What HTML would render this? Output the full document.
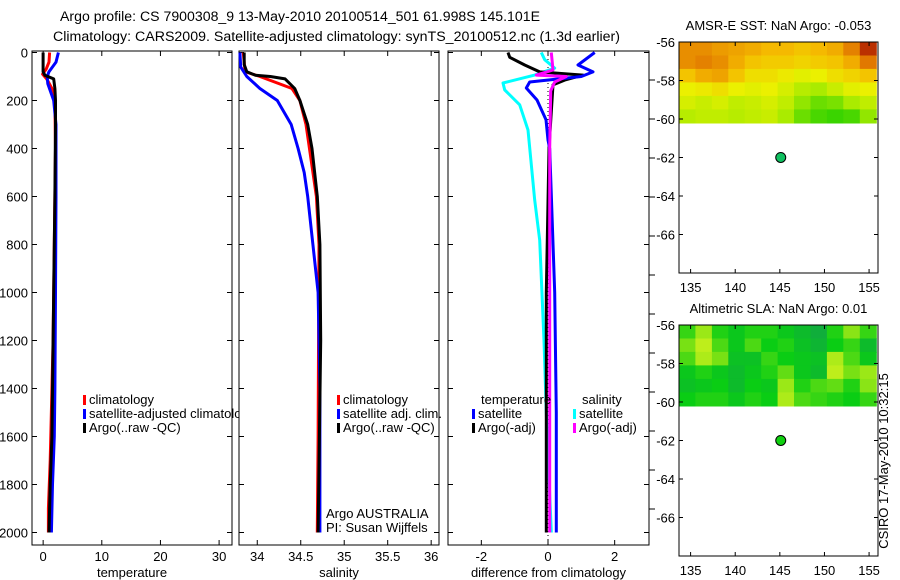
<!DOCTYPE html>
<html><head><meta charset="utf-8"><style>
body{margin:0;background:#fff;}
svg{display:block;font-family:"Liberation Sans",sans-serif;}
</style></head><body>
<svg id="fig" width="900" height="580" viewBox="0 0 900 580" xmlns="http://www.w3.org/2000/svg">
<defs><clipPath id="legclip"><rect x="0" y="0" width="239" height="580"/></clipPath></defs>
<text x="60" y="21" font-size="13.5" textLength="480" lengthAdjust="spacingAndGlyphs">Argo profile: CS 7900308_9 13-May-2010 20100514_501 61.998S 145.101E</text>
<text x="53" y="41" font-size="13.5" textLength="567" lengthAdjust="spacingAndGlyphs">Climatology: CARS2009. Satellite-adjusted climatology: synTS_20100512.nc (1.3d earlier)</text>
<text transform="translate(888,461) rotate(-90)" text-anchor="middle" font-size="13">CSIRO 17-May-2010 10:32:15</text>
</svg>
<script>
// ---------- data ----------
const depthTicks=[0,200,400,600,800,1000,1200,1400,1600,1800,2000];
const tempTicks=[0,10,20,30];
const salTicks=[34,34.5,35,35.5,36];
const salTickLabels=["34","34.5","35","35.5","36"];
const diffTicks=[-2,0,2];
const tClimDepth=[0,40,70,90,110,150,200,400,800,1200,1700,1900,2000];
const tClimVal=[1.1,1.0,0.5,-0.1,0.6,1.5,2.0,2.1,1.9,1.7,1.2,0.9,0.9];
const tSatDepth=[0,40,80,100,130,200,300,600,1000,1400,1600,1800,2000];
const tSatVal=[2.6,2.2,1.0,0.7,0.8,1.8,2.2,2.2,2.1,2.0,1.9,1.6,1.4];
const tArgoDepth=[0,80,95,110,150,200,300,600,1000,1400,1600,1800,2000];
const tArgoVal=[0.0,0.0,0.3,1.8,2.0,2.1,2.1,2.0,1.8,1.6,1.5,1.2,1.0];
const sClimDepth=[0,80,100,150,200,300,600,800,1600,2000];
const sClimVal=[33.84,33.86,34.03,34.40,34.49,34.56,34.68,34.71,34.70,34.69];
const sSatDepth=[0,60,100,150,200,300,400,500,600,800,1000,1400,2000];
const sSatVal=[33.80,33.81,33.88,34.03,34.23,34.39,34.47,34.54,34.58,34.64,34.70,34.72,34.72];
const sArgoDepth=[0,50,80,95,100,110,150,200,300,400,600,800,1200,2000];
const sArgoVal=[33.85,33.85,33.88,33.98,34.15,34.32,34.43,34.49,34.58,34.63,34.69,34.72,34.73,34.70];
const dTSatDepth=[0,52,81,100,123,148,198,280,365,400,1000,1500,2000];
const dTSatVal=[1.4,0.9,1.35,1.0,-0.55,-0.65,-0.33,-0.06,0.0,0.05,0.2,0.25,0.25];
const dTArgoDepth=[0,20,52,81,94,115,135,200,400,1000,2000];
const dTArgoVal=[-1.2,-1.15,-0.7,-0.25,1.05,0.5,0.15,0.12,0.03,-0.05,-0.05];
const dSSatDepth=[0,30,65,94,127,156,218,323,615,782,1200,1500,2000];
const dSSatVal=[-0.2,-0.1,0.2,-0.4,-1.35,-1.3,-0.85,-0.6,-0.4,-0.25,-0.12,-0.05,0.1];
const dSArgoDepth=[0,73,94,100,110,123,160,400,1000,2000];
const dSArgoVal=[0.1,0.15,-0.35,0.55,0.4,0.2,0.08,0.05,0.05,0.05];
const mapLonTicks=[135,140,145,150,155];
const mapLatTicks=[-56,-58,-60,-62,-64,-66];
const sstGrid=[
[0.75,0.75,0.72,0.70,0.68,0.65,0.65,0.62,0.65,0.68,0.78,0.92],
[0.75,0.78,0.75,0.68,0.62,0.60,0.60,0.58,0.60,0.62,0.68,0.80],
[0.62,0.68,0.70,0.62,0.55,0.55,0.52,0.48,0.50,0.55,0.58,0.62],
[0.50,0.52,0.55,0.50,0.48,0.50,0.45,0.38,0.35,0.42,0.48,0.50],
[0.45,0.42,0.45,0.40,0.42,0.45,0.40,0.30,0.22,0.25,0.35,0.40],
[0.38,0.40,0.40,0.38,0.40,0.42,0.35,0.22,0.15,0.12,0.15,0.30]];
const slaGrid=[
[0.55,0.80,0.50,0.40,0.50,0.50,0.40,0.30,0.20,0.50,0.75,0.55],
[0.70,0.90,0.60,0.40,0.60,0.45,0.50,0.35,0.25,0.45,0.55,0.30],
[0.60,0.85,0.70,0.35,0.35,0.55,0.45,0.40,0.35,0.85,0.60,0.40],
[0.40,0.50,0.40,0.30,0.40,0.50,0.65,0.40,0.30,0.90,0.70,0.80],
[0.35,0.40,0.45,0.30,0.45,0.40,0.80,0.50,0.60,0.65,0.50,0.75],
[0.45,0.50,0.50,0.40,0.50,0.45,0.85,0.60,0.55,0.50,0.45,0.55]];
const floatLon=[145.101];
const floatLat=[-61.998];

// ---------- drawing ----------
const svg=document.getElementById('fig');
const NS='http://www.w3.org/2000/svg';
function mk(tag,at,parent){const e=document.createElementNS(NS,tag);for(const k in at)e.setAttribute(k,at[k]);(parent||svg).appendChild(e);return e;}
const Y0=52.5,Y1=532.5,TOP=51,BOT=545;
function yDepth(d){return Y0+(Y1-Y0)*d/2000;}
function xScale(v,v0,v1,x0,x1){return x0+(v-v0)/(v1-v0)*(x1-x0);}

const panels=[
 {name:'temperature',x0:32,x1:232,v0:-1.9,v1:32.2,ticks:tempTicks,labels:tempTicks.map(String),xl:'temperature'},
 {name:'salinity',x0:239,x1:439,v0:33.79,v1:36.09,ticks:salTicks,labels:salTickLabels,xl:'salinity'},
 {name:'difference',x0:448,x1:649,v0:-3.0,v1:3.03,ticks:diffTicks,labels:diffTicks.map(String),xl:'difference from climatology'}];

panels.forEach((p,i)=>{
 const g=mk('g',{});
 
 
 const fr=mk('rect',{x:p.x0,y:TOP,width:p.x1-p.x0,height:BOT-TOP,fill:'none',stroke:'#000','stroke-width':1},g);
 
 
 p.ticks.forEach((t,k)=>{
  const x=xScale(t,p.v0,p.v1,p.x0,p.x1);
  mk('line',{x1:x,x2:x,y1:BOT,y2:BOT-5,stroke:'#000'},g);
  mk('line',{x1:x,x2:x,y1:TOP,y2:TOP+5,stroke:'#000'},g);
  const tl=mk('text',{x:x,y:BOT+16,'text-anchor':'middle','font-size':13},g);
  
  
  tl.textContent=p.labels[k];
 });
 depthTicks.forEach(d=>{
  const y=yDepth(d);
  mk('line',{x1:p.x0,x2:p.x0+5,y1:y,y2:y,stroke:'#000'},g);
  mk('line',{x1:p.x1,x2:p.x1-5,y1:y,y2:y,stroke:'#000'},g);
  if(i===0){
   const tl=mk('text',{x:p.x0-4,y:y+5,'text-anchor':'end','font-size':13},g);
   
   
   tl.textContent=String(d);
  }
 });
 const xl=mk('text',{x:(p.x0+p.x1)/2,y:577,'text-anchor':'middle','font-size':13},g);
 
 
 xl.textContent=p.xl;
});
[80,119,158,197,236,275,314,353,392,431,470,509].forEach(y=>mk('line',{x1:649,x2:655,y1:y,y2:y,stroke:'#000'}));

function profile(p,depths,vals,color,name,w){
 const pts=depths.map((d,k)=>xScale(vals[k],p.v0,p.v1,p.x0,p.x1).toFixed(1)+','+yDepth(d).toFixed(1)).join(' ');
 const l=mk('polyline',{points:pts,fill:'none',stroke:color,'stroke-width':w||3,'stroke-linejoin':'round'});
 
 
}
profile(panels[0],tClimDepth,tClimVal,'#f00','temp-climatology-line');
profile(panels[0],tSatDepth,tSatVal,'#00f','temp-satellite-line');
profile(panels[0],tArgoDepth,tArgoVal,'#000','temp-argo-line');
profile(panels[1],sClimDepth,sClimVal,'#f00','sal-climatology-line');
profile(panels[1],sSatDepth,sSatVal,'#00f','sal-satellite-line');
profile(panels[1],sArgoDepth,sArgoVal,'#000','sal-argo-line');
const zx=xScale(0,panels[2].v0,panels[2].v1,panels[2].x0,panels[2].x1);
mk('line',{x1:zx,x2:zx,y1:TOP,y2:BOT,stroke:'#000','stroke-dasharray':'1,3'});
profile(panels[2],dSSatDepth,dSSatVal,'#0ff','diff-sal-satellite-line');
profile(panels[2],dTArgoDepth,dTArgoVal,'#000','diff-temp-argo-line');
profile(panels[2],dTSatDepth,dTSatVal,'#00f','diff-temp-satellite-line');
profile(panels[2],dSArgoDepth,dSArgoVal,'#f0f','diff-sal-argo-line');

function legend(x,y,color,text,name,clip){
 const g=mk('g',{});
 
 
 if(clip) g.setAttribute('clip-path','url(#legclip)');
 if(color) mk('rect',{x:x,y:y-9,width:3,height:10,fill:color},g);
 const t=mk('text',{x:x+6,y:y,'font-size':13},g);
 t.textContent=text;
}
legend(83,404,'#f00','climatology','legend-temp-climatology',true);
legend(83,418,'#00f','satellite-adjusted climatology','legend-temp-satellite',true);
legend(83,432,'#000','Argo(..raw -QC)','legend-temp-argo',true);
legend(337,404,'#f00','climatology','legend-sal-climatology');
legend(337,418,'#00f','satellite adj. clim.','legend-sal-satellite');
legend(337,432,'#000','Argo(..raw -QC)','legend-sal-argo');
const ag=mk('text',{x:326,y:518,'font-size':13});ag.textContent='Argo AUSTRALIA';

const pi=mk('text',{x:326,y:532,'font-size':13});pi.textContent='PI: Susan Wijffels';

legend(475,404,null,'temperature','legend-temperature-heading');
legend(472,418,'#00f','satellite','legend-diff-temp-satellite');
legend(472,432,'#000','Argo(-adj)','legend-diff-temp-argo');
legend(576,404,null,'salinity','legend-salinity-heading');
legend(573,418,'#0ff','satellite','legend-diff-sal-satellite');
legend(573,432,'#f0f','Argo(-adj)','legend-diff-sal-argo');

// ---------- maps ----------
function lerpC(stops,v){
 v=Math.max(0,Math.min(1,v));
 for(let k=1;k<stops.length;k++){if(v<=stops[k][0]){const a=stops[k-1],b=stops[k];const f=(v-a[0])/(b[0]-a[0]);
  const c=[0,1,2].map(j=>Math.round(a[1][j]+(b[1][j]-a[1][j])*f));return 'rgb('+c.join(',')+')';}}
 return 'rgb('+stops[stops.length-1][1].join(',')+')';
}
const sstStops=[[0,[0,200,0]],[0.35,[170,235,0]],[0.5,[235,240,0]],[0.65,[245,185,0]],[0.8,[225,120,0]],[1,[160,0,0]]];
const slaStops=[[0,[20,150,90]],[0.45,[10,205,20]],[0.7,[120,225,20]],[1,[225,245,30]]];
const mapsDef=[
 {name:'amsr-sst-map',top:42,grid:sstGrid,stops:sstStops,title:'AMSR-E SST: NaN Argo: -0.053',dot:'#10c060'},
 {name:'altimetric-sla-map',top:325,grid:slaGrid,stops:slaStops,title:'Altimetric SLA: NaN Argo: 0.01',dot:'#10d010'}];
const MX0=679,MX1=878,LON0=133.7,LON1=156.0,LAT0=-56,LAT1=-68,MH=231;
mapsDef.forEach(m=>{
 const g=mk('g',{});
 
 
 const lx=v=>xScale(v,LON0,LON1,MX0,MX1);
 const ly=v=>m.top+(v-LAT0)/(LAT1-LAT0)*MH;
 const rows=m.grid.length,cols=m.grid[0].length;
 const lonE=155.8,latS=-60.2;
 for(let r=0;r<rows;r++)for(let c=0;c<cols;c++){
  const x=lx(LON0+(lonE-LON0)*c/cols),x2=lx(LON0+(lonE-LON0)*(c+1)/cols);
  const y=ly(LAT0+(latS-LAT0)*r/rows),y2=ly(LAT0+(latS-LAT0)*(r+1)/rows);
  const cell=mk('rect',{x:x.toFixed(1),y:y.toFixed(1),width:(x2-x+0.6).toFixed(1),height:(y2-y+0.6).toFixed(1),fill:lerpC(m.stops,m.grid[r][c])},g);
  
  
 }
 mk('rect',{x:MX0,y:m.top,width:MX1-MX0,height:MH,fill:'none',stroke:'#000'},g);
 mapLonTicks.forEach(t=>{const x=lx(t);
  mk('line',{x1:x,x2:x,y1:m.top+MH,y2:m.top+MH-4,stroke:'#000'},g);
  mk('line',{x1:x,x2:x,y1:m.top,y2:m.top+4,stroke:'#000'},g);
  const tl=mk('text',{x:x,y:m.top+MH+19,'text-anchor':'middle','font-size':13},g);
  
  
  tl.textContent=String(t);});
 mapLatTicks.forEach(t=>{const y=ly(t);
  mk('line',{x1:MX0,x2:MX0+4,y1:y,y2:y,stroke:'#000'},g);
  mk('line',{x1:MX1,x2:MX1-4,y1:y,y2:y,stroke:'#000'},g);
  const tl=mk('text',{x:MX0-4,y:y+5,'text-anchor':'end','font-size':13},g);
  
  
  tl.textContent=String(t);});
 const tt=mk('text',{x:(MX0+MX1)/2,y:m.top-12,'text-anchor':'middle','font-size':13},g);
 
 
 tt.textContent=m.title;
 const dot=mk('circle',{cx:lx(floatLon[0]),cy:ly(floatLat[0]),r:5,fill:m.dot,stroke:'#000','stroke-width':1},g);
 
 
});
</script>
</body></html>
